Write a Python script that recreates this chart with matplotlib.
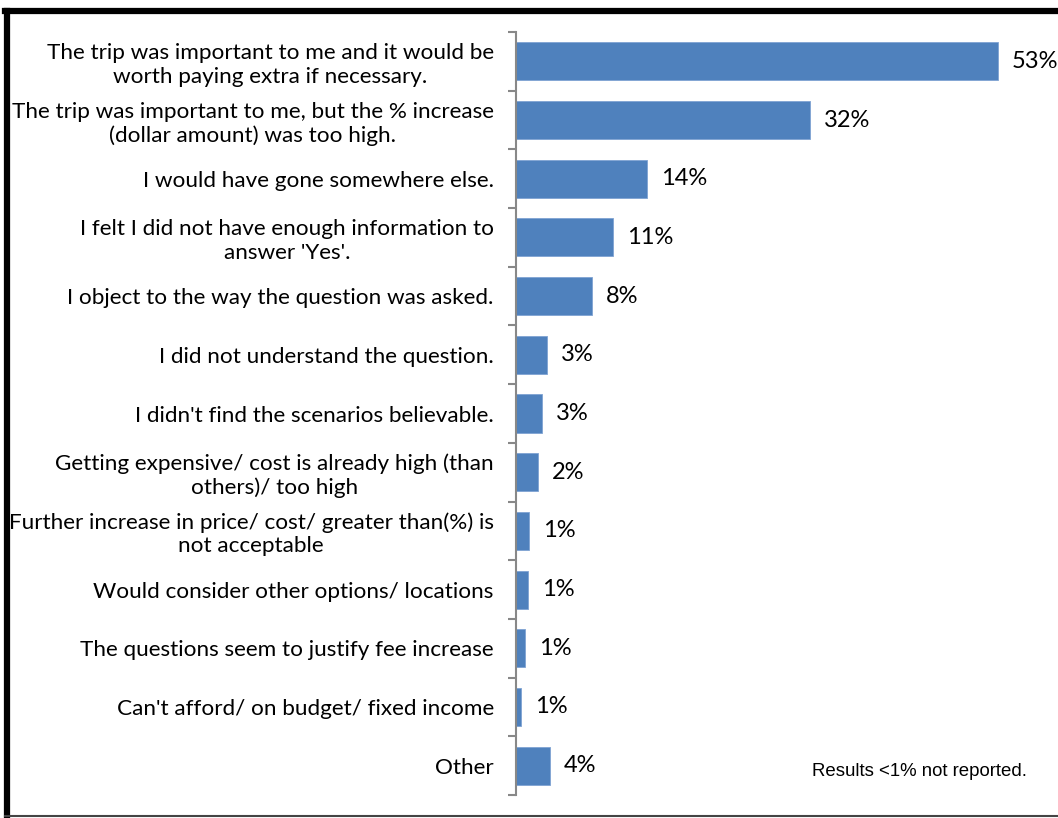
import matplotlib.pyplot as plt
from matplotlib.lines import Line2D
from matplotlib.ticker import FixedLocator

# survey answers, top to bottom
categories = [
    "The trip was important to me and it would be\nworth paying extra if necessary.",
    "The trip was important to me, but the % increase\n(dollar amount) was too high.",
    "I would have gone somewhere else.",
    "I felt I did not have enough information to\nanswer 'Yes'.",
    "I object to the way the question was asked.",
    "I did not understand the question.",
    "I didn't find the scenarios believable.",
    "Getting expensive/ cost is already high (than\nothers)/ too high",
    "Further increase in price/ cost/ greater than(%) is\nnot acceptable",
    "Would consider other options/ locations",
    "The questions seem to justify fee increase",
    "Can't afford/ on budget/ fixed income",
    "Other",
]
# percent of respondents
percents = [53.0, 32.3, 14.4, 10.7, 8.4, 3.4, 2.9, 2.4, 1.4, 1.3, 1.0, 0.6, 3.7]
note = "Results <1% not reported."

bar_color = "#4F81BD"
axis_grey = "#888888"

fig = plt.figure(figsize=(10.58, 8.18), dpi=100)
ax = fig.add_axes([516 / 1058, 1 - 795 / 818, 1 - 516 / 1058, (795 - 32) / 818])

n = len(categories)
ypos = list(range(n))
ax.barh(ypos, percents, height=0.65, color=bar_color, edgecolor="#7FA3D3", linewidth=0.6)

ax.set_ylim(n - 0.5, -0.5)
ax.set_xlim(0, 59.6)

# value labels
for y, v in zip(ypos, percents):
    ax.annotate(f"{v:.0f}%", xy=(v, y), xytext=(10, 0), textcoords="offset points",
                ha="left", va="center", fontsize=17, family="Lato")

# boundaries get the tick marks, centers get the labels
ax.yaxis.set_major_locator(FixedLocator([i - 0.5 for i in range(n + 1)]))
ax.yaxis.set_minor_locator(FixedLocator(ypos))
ax.set_yticklabels([], minor=False)
ax.set_yticklabels(categories, minor=True, fontsize=16.2, family="Lato")
for lbl in ax.get_yticklabels(minor=True):
    lbl.set_multialignment("center")
ax.tick_params(axis="y", which="major", length=6, width=1.5, color=axis_grey, direction="out")
ax.tick_params(axis="y", which="minor", length=0, pad=16)

ax.set_xticks([])
for side in ["top", "right", "bottom"]:
    ax.spines[side].set_visible(False)
ax.spines["left"].set_color(axis_grey)
ax.spines["left"].set_linewidth(1.5)

fig.text(1027 / 1058, 1 - 772 / 818, note, ha="right", va="center",
         fontsize=13.4, family="Liberation Sans")

# frame around the chart
fig.add_artist(Line2D([7 / 1058, 7 / 1058], [1 - 818 / 818, 1 - 11 / 818], color="black", lw=4.5))
fig.add_artist(Line2D([5 / 1058, 1.0], [1 - 11 / 818, 1 - 11 / 818], color="black", lw=4.5))
fig.add_artist(Line2D([5 / 1058, 1.0], [1 - 816 / 818, 1 - 816 / 818], color="#444444", lw=1.5))

fig.savefig("out.png", dpi=100)
